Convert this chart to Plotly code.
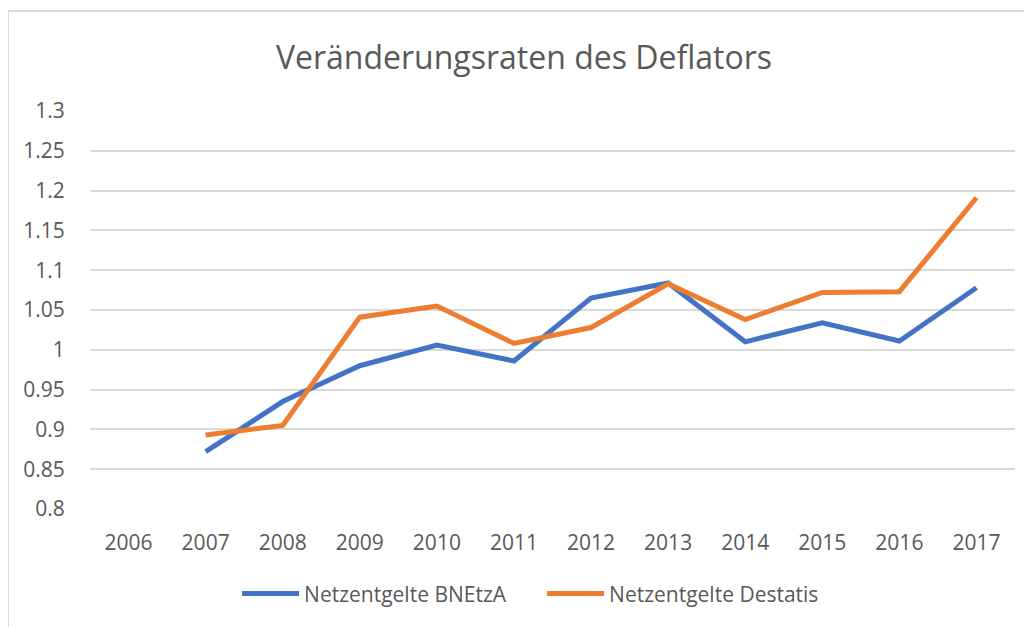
import plotly.graph_objects as go

# Jahre (Kategorien) und Werte
years = ["2006", "2007", "2008", "2009", "2010", "2011", "2012",
         "2013", "2014", "2015", "2016", "2017"]
bnetza = [None, 0.872, 0.935, 0.980, 1.006, 0.986, 1.065,
          1.084, 1.010, 1.034, 1.011, 1.078]
destatis = [None, 0.893, 0.905, 1.041, 1.055, 1.008, 1.028,
            1.083, 1.038, 1.072, 1.073, 1.191]
y_ticks = [0.8, 0.85, 0.9, 0.95, 1.0, 1.05, 1.1, 1.15, 1.2, 1.25, 1.3]
y_labels = ["0.8", "0.85", "0.9", "0.95", "1", "1.05", "1.1",
            "1.15", "1.2", "1.25", "1.3"]

font = "Open Sans"
grey = "#595959"

fig = go.Figure()
fig.add_scatter(x=years, y=bnetza, mode="lines", name="Netzentgelte BNEtzA",
                line=dict(color="#4472C4", width=5))
fig.add_scatter(x=years, y=destatis, mode="lines", name="Netzentgelte Destatis",
                line=dict(color="#ED7D31", width=5))

# Rahmen des Diagramms (Excel-Style), rechts/unten abgeschnitten
fig.add_shape(type="rect", xref="paper", yref="paper",
              x0=-0.0886, x1=1.03, y0=-0.35, y1=1.251,
              line=dict(color="#d9d9d9", width=2), layer="below")

# die Seite hat 8px Body-Rand -> Raender entsprechend verschoben
fig.update_layout(
    width=1032, height=627,
    margin=dict(l=82, r=25, t=103, b=126),
    paper_bgcolor="white", plot_bgcolor="white",
    font=dict(family=font, color=grey, size=21),
    title=dict(text="Veränderungsraten des Deflators", x=0.5, xanchor="center",
               y=0.92, yanchor="middle",
               font=dict(size=32, color=grey, family=font)),
    legend=dict(orientation="h", x=0.159, xanchor="left", y=-0.213,
                yanchor="middle", font=dict(size=21, color=grey),
                itemwidth=57, entrywidth=233, tracegroupgap=0),
    showlegend=True,
)
fig.update_xaxes(type="category", range=[-0.5, 11.5], showgrid=False,
                 showline=False, zeroline=False, ticks="outside", ticklen=15,
                 tickcolor="rgba(0,0,0,0)", tickfont=dict(size=21, color=grey))
fig.update_yaxes(range=[0.8, 1.3], tickvals=y_ticks, ticktext=y_labels,
                 showgrid=True, gridcolor="#d9d9d9", gridwidth=2,
                 zeroline=False, showline=False, ticks="outside", ticklen=20,
                 tickcolor="rgba(0,0,0,0)", tickfont=dict(size=21, color=grey))

fig.write_html("out.html")
